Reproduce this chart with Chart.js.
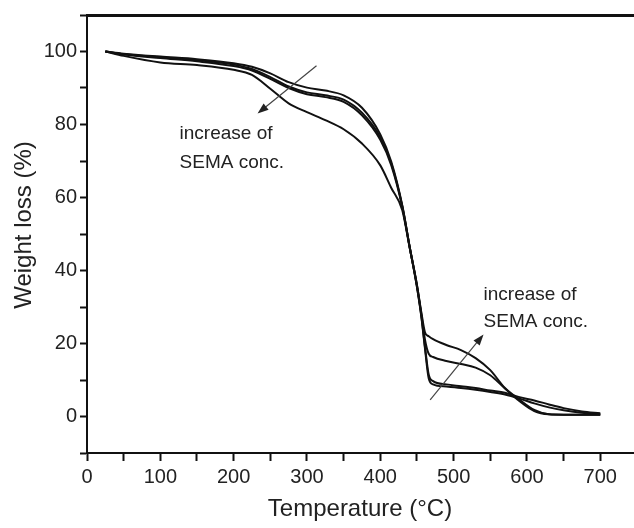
<!DOCTYPE html>
<html><head><meta charset="utf-8">
<script src="https://cdn.jsdelivr.net/npm/chart.js@4/dist/chart.umd.min.js"></script>
<style>html,body{margin:0;padding:0;background:#fff;overflow:hidden}#wrap{width:634px;height:528px;position:relative}</style>
</head><body><div id="wrap"><canvas id="c"></canvas></div>
<script>
// Temperature (°C)
const temps = [25, 50, 100, 150, 200, 225, 250, 275, 300, 325, 350, 375, 400, 415, 430, 440, 450, 456, 461, 466, 472, 490, 510, 530, 550, 570, 590, 610, 630, 650, 675, 700];
// Weight loss (%) for four SEMA concentrations (lowest -> highest)
const wlS1 = [100, 99.4, 98.6, 97.9, 96.8, 95.8, 94.0, 91.6, 90.1, 89.3, 88.0, 84.6, 77.3, 69.8, 57.8, 46.5, 35.5, 27.5, 19, 11.5, 9.7, 8.8, 8.3, 7.8, 7.1, 6.5, 5.3, 4.4, 3.3, 2.3, 1.4, 0.9];
const wlS2 = [100, 99.3, 98.4, 97.6, 96.4, 95.2, 93.0, 90.4, 88.8, 88.0, 86.8, 83.2, 76.5, 69.3, 57.6, 46.5, 35.5, 27.3, 18.5, 10.5, 8.8, 8.2, 7.8, 7.3, 6.7, 6.0, 4.9, 3.6, 2.5, 1.7, 1.0, 0.7];
const wlS3 = [100, 99.2, 98.2, 97.3, 96.0, 94.8, 92.5, 90.0, 88.3, 87.5, 86.2, 82.5, 75.8, 68.8, 57.4, 46.5, 36, 28, 21, 17.2, 16.3, 15.2, 14.4, 13.4, 11.3, 7.7, 4.2, 1.5, 0.6, 0.5, 0.5, 0.5];
const wlS4 = [100, 98.8, 97.0, 96.3, 95.0, 93.6, 89.8, 85.8, 83.4, 81.2, 78.7, 74.8, 68.8, 62.6, 56.5, 46.3, 36, 28.5, 23, 22, 21.2, 19.6, 18.2, 16.0, 12.7, 7.8, 4.6, 1.8, 0.6, 0.5, 0.5, 0.5];
const seriesList = [wlS1, wlS2, wlS3, wlS4];

// Tick labels
const xLabelValues = [0, 100, 200, 300, 400, 500, 600, 700];
const yLabelValues = [0, 20, 40, 60, 80, 100];
const xTitle = 'Temperature (\u00B0C)';
const yTitle = 'Weight loss (%)';

// Annotations (data coordinates)
const annoLines = ['increase of', 'SEMA conc.'];
const arrow1From = [313, 96.1], arrow1To = [232.6, 83.0];
const text1Pos = [126.2, 76.1, 68.2];   // x, baseline y line1, baseline y line2
const arrow2From = [468, 4.55], arrow2To = [540.8, 22.5];
const text2Pos = [540.8, 31.9, 24.6];

const FONT = "'Liberation Sans', Arial, Helvetica, sans-serif";

const decor = {
  id: 'decor',
  afterDraw(chart) {
    const ctx = chart.ctx, xs = chart.scales.x, ys = chart.scales.y;
    const P = (x, y) => [xs.getPixelForValue(x), ys.getPixelForValue(y)];
    ctx.save();
    function arrow(from, to) {
      const [x1, y1] = P(from[0], from[1]);
      const [x2, y2] = P(to[0], to[1]);
      const ang = Math.atan2(y2 - y1, x2 - x1);
      const L = 11, W = 4;
      ctx.strokeStyle = '#444'; ctx.lineWidth = 1.2;
      ctx.beginPath(); ctx.moveTo(x1, y1);
      ctx.lineTo(x2 - L * Math.cos(ang) * 0.8, y2 - L * Math.sin(ang) * 0.8); ctx.stroke();
      ctx.fillStyle = '#222';
      ctx.beginPath();
      ctx.moveTo(x2, y2);
      ctx.lineTo(x2 - L * Math.cos(ang) + W * Math.sin(ang), y2 - L * Math.sin(ang) - W * Math.cos(ang));
      ctx.lineTo(x2 - L * Math.cos(ang) - W * Math.sin(ang), y2 - L * Math.sin(ang) + W * Math.cos(ang));
      ctx.closePath(); ctx.fill();
    }
    arrow(arrow1From, arrow1To);
    arrow(arrow2From, arrow2To);
    ctx.fillStyle = '#222';
    ctx.font = '19px ' + FONT;
    ctx.textAlign = 'left'; ctx.textBaseline = 'alphabetic';
    for (const tp of [text1Pos, text2Pos]) {
      const [px, py1] = P(tp[0], tp[1]);
      const py2 = ys.getPixelForValue(tp[2]);
      ctx.fillText(annoLines[0], px, py1);
      ctx.fillText(annoLines[1], px, py2);
    }
    ctx.font = '24px ' + FONT;
    ctx.textAlign = 'center'; ctx.textBaseline = 'middle';
    ctx.fillText(xTitle, 360, 509);
    ctx.translate(24, 225); ctx.rotate(-Math.PI / 2);
    ctx.fillText(yTitle, 0, 0);
    ctx.restore();
  }
};

new Chart(document.getElementById('c'), {
  type: 'line',
  data: {
    datasets: seriesList.map(s => ({
      data: temps.map((t, i) => ({ x: t, y: s[i] })),
      borderColor: '#111', borderWidth: 2, pointRadius: 0,
      cubicInterpolationMode: 'monotone', fill: false
    }))
  },
  options: {
    responsive: true, maintainAspectRatio: false, animation: false,
    layout: { padding: { top: 15, right: 0, left: 0, bottom: 0 } },
    plugins: { legend: { display: false }, tooltip: { enabled: false } },
    scales: {
      x: {
        type: 'linear', min: 0, max: 746, position: 'bottom',
        afterFit(s) { s.height = 75; },
        ticks: {
          stepSize: 50, includeBounds: false, autoSkip: false, maxRotation: 0,
          font: { family: FONT, size: 20 }, color: '#222', padding: 4,
          callback(v) { return xLabelValues.includes(v) ? String(v) : ''; }
        },
        grid: { drawOnChartArea: false, drawTicks: true, tickLength: 8, tickWidth: 2, tickColor: '#111' },
        border: { display: true, color: '#111', width: 2 }
      },
      xTop: {
        type: 'linear', min: 0, max: 746, position: 'top',
        afterFit(s) { s.height = 0; },
        ticks: { display: false },
        grid: { display: false, drawTicks: false },
        border: { display: true, color: '#111', width: 3 }
      },
      y: {
        type: 'linear', min: -10, max: 110, position: 'left',
        afterFit(s) { s.width = 87; },
        ticks: {
          stepSize: 10, includeBounds: false, autoSkip: false,
          font: { family: FONT, size: 20 }, color: '#222', padding: 3,
          callback(v) { return yLabelValues.includes(v) ? String(v) : ''; }
        },
        grid: { drawOnChartArea: false, drawTicks: true, tickLength: 7, tickWidth: 2, tickColor: '#111' },
        border: { display: true, color: '#111', width: 2 }
      }
    }
  },
  plugins: [decor]
});
</script>
</body></html>
